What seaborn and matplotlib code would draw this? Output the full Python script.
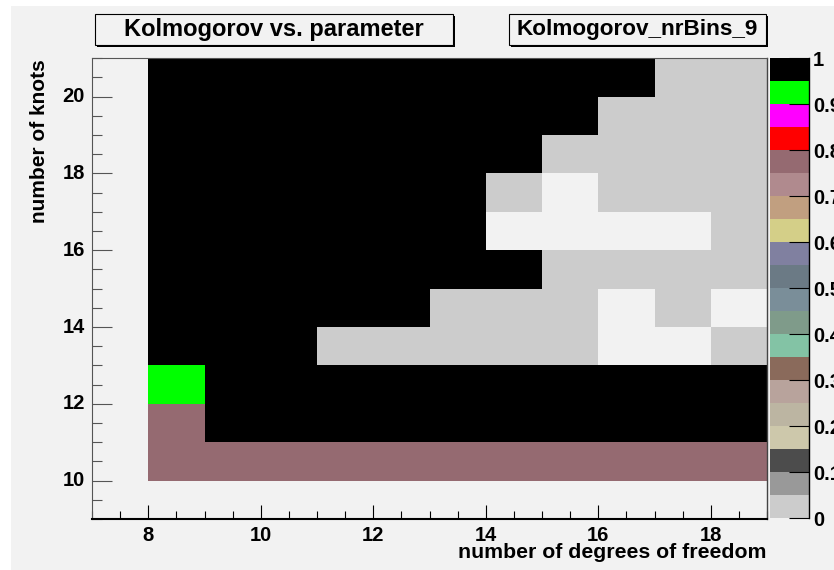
import numpy as np
import pandas as pd
import matplotlib
matplotlib.use("Agg")
import matplotlib.pyplot as plt
from matplotlib.colors import ListedColormap
from matplotlib.patches import Rectangle
import seaborn as sns

# ---- data -------------------------------------------------------------
dof = [8, 9, 10, 11, 12, 13, 14, 15, 16, 17, 18]          # x bins (lower edges)
knots = [20, 19, 18, 17, 16, 15, 14, 13, 12, 11, 10]      # y bins, top to bottom

# Kolmogorov probability per (knots, dof) bin; 0 means empty bin
kolmogorov = [
    [1.00, 1.00, 1.00, 1.00, 1.00, 1.00, 1.00, 1.00, 1.00, 0.02, 0.02],
    [1.00, 1.00, 1.00, 1.00, 1.00, 1.00, 1.00, 1.00, 0.02, 0.02, 0.02],
    [1.00, 1.00, 1.00, 1.00, 1.00, 1.00, 1.00, 0.02, 0.02, 0.02, 0.02],
    [1.00, 1.00, 1.00, 1.00, 1.00, 1.00, 0.02, 0.00, 0.02, 0.02, 0.02],
    [1.00, 1.00, 1.00, 1.00, 1.00, 1.00, 0.00, 0.00, 0.00, 0.00, 0.02],
    [1.00, 1.00, 1.00, 1.00, 1.00, 1.00, 1.00, 0.02, 0.02, 0.02, 0.02],
    [1.00, 1.00, 1.00, 1.00, 1.00, 0.02, 0.02, 0.02, 0.00, 0.02, 0.00],
    [1.00, 1.00, 1.00, 0.02, 0.02, 0.02, 0.02, 0.02, 0.00, 0.00, 0.02],
    [0.92, 1.00, 1.00, 1.00, 1.00, 1.00, 1.00, 1.00, 1.00, 1.00, 1.00],
    [0.78, 1.00, 1.00, 1.00, 1.00, 1.00, 1.00, 1.00, 1.00, 1.00, 1.00],
    [0.78, 0.78, 0.78, 0.78, 0.78, 0.78, 0.78, 0.78, 0.78, 0.78, 0.78],
]

x_range = (7, 19)
y_range = (9, 21)
x_major = [8, 10, 12, 14, 16, 18]
y_major = [10, 12, 14, 16, 18, 20]
z_ticks = [0.0, 0.1, 0.2, 0.3, 0.4, 0.5, 0.6, 0.7, 0.8, 0.9, 1.0]
z_labels = ["0", "0.1", "0.2", "0.3", "0.4", "0.5", "0.6", "0.7", "0.8", "0.9", "1"]

# 20-step palette, from 0 up to 1
palette = [
    "#cccccc", "#999999", "#4c4c4c", "#cdc8ab", "#bcb5a2",
    "#b8a39c", "#8a6a5b", "#83c3a5", "#7f9b8a", "#7a8e99",
    "#6b7a85", "#8080a0", "#d4cf88", "#c19f80", "#b08a8e",
    "#956a71", "#ff0000", "#ff00ff", "#00ff00", "#000000",
]

title_left = "Kolmogorov vs. parameter"
title_right = "Kolmogorov_nrBins_9"
x_title = "number of degrees of freedom"
y_title = "number of knots"

# ---- figure -----------------------------------------------------------
W, H = 834, 570
BG = "#f2f2f2"

plt.rcParams["font.family"] = ["Liberation Sans", "DejaVu Sans"]
plt.rcParams["font.weight"] = "bold"

fig = plt.figure(figsize=(W / 100, H / 100), dpi=100)
fig.patch.set_facecolor("white")


def fx(px):
    return px / W


def fy(py):
    return 1 - py / H


fig.add_artist(Rectangle((fx(11), 0), 1 - fx(11), fy(6),
                         transform=fig.transFigure, facecolor=BG,
                         edgecolor="none", zorder=-10))

ax = fig.add_axes([fx(92), fy(519), fx(767) - fx(92), fy(58.3) - fy(519)])
cax = fig.add_axes([fx(770), fy(518), fx(809) - fx(770), fy(58.3) - fy(518)])
ax.set_facecolor(BG)

df = pd.DataFrame(kolmogorov, index=knots, columns=dof)
cmap = ListedColormap(palette)
sns.heatmap(df, mask=(df == 0), cmap=cmap, vmin=0, vmax=1,
            ax=ax, cbar=True, cbar_ax=cax)

# heatmap cells sit at integer index positions: map data values onto them
x0 = dof[0]
y_top = knots[0] + 1
ax.set_xlim(x_range[0] - x0, x_range[1] - x0)
ax.set_ylim(y_top - y_range[0], y_top - y_range[1])

ax.set_xticks([v - x0 for v in x_major])
ax.set_xticklabels([str(v) for v in x_major], rotation=0)
ax.set_xticks(list(np.arange(x_range[0], x_range[1] + 0.01, 0.5) - x0), minor=True)
ax.set_yticks([y_top - v for v in y_major])
ax.set_yticklabels([str(v) for v in y_major], rotation=0, va="center")
ax.set_yticks(list(y_top - np.arange(y_range[0], y_range[1] + 0.01, 0.5)), minor=True)
ax.set_xlabel("")
ax.set_ylabel("")

ax.tick_params(axis="x", which="major", direction="in", length=10, width=0.8,
               color="black", labelsize=14.5, pad=5)
ax.tick_params(axis="x", which="minor", direction="in", length=5.5, width=0.8,
               color="black")
ax.tick_params(axis="y", which="major", direction="in", length=14.4, width=0.8,
               color="#555555", labelsize=14.5, pad=5)
ax.tick_params(axis="y", which="minor", direction="in", length=7.2, width=0.8,
               color="#555555")
for lab in ax.get_xticklabels() + ax.get_yticklabels():
    lab.set_fontweight("bold")

for name, sp in ax.spines.items():
    sp.set_visible(True)
    sp.set_linewidth(0.8)
    sp.set_color("#555555")
ax.spines["bottom"].set_color("black")
ax.spines["bottom"].set_linewidth(1.5)
ax.spines["right"].set_color("#444444")
ax.spines["right"].set_linewidth(1.0)

# colour scale
cbar = ax.collections[0].colorbar
cbar.set_ticks(z_ticks)
cbar.set_ticklabels(z_labels)
cbar.outline.set_visible(False)
cax.yaxis.set_ticks_position("right")
cax.tick_params(which="major", direction="in", length=14.4, width=0.8,
                color="black", labelsize=14.5, pad=3)
cax.minorticks_off()
for lab in cax.get_yticklabels():
    lab.set_fontweight("bold")
cax.plot([1, 1], [0, 1], transform=cax.transAxes, color="black",
         lw=1.0, clip_on=False)

# axis titles
fig.text(fx(767), fy(553), x_title, ha="right", va="center",
         fontsize=15.3, fontweight="bold")
fig.text(fx(40), fy(59), y_title, ha="center", va="top", rotation=90,
         fontsize=15, fontweight="bold")


# title boxes with drop shadow
def title_box(x0p, x1p, y0p, y1p, text, size):
    fig.add_artist(Rectangle((fx(x0p + 2), fy(y1p + 2)), fx(x1p) - fx(x0p),
                             fy(y0p) - fy(y1p), transform=fig.transFigure,
                             facecolor="black", edgecolor="none", zorder=5))
    fig.add_artist(Rectangle((fx(x0p), fy(y1p)), fx(x1p) - fx(x0p),
                             fy(y0p) - fy(y1p), transform=fig.transFigure,
                             facecolor=BG, edgecolor="black", lw=0.8, zorder=6))
    fig.text(fx((x0p + x1p) / 2), fy((y0p + y1p) / 2), text, ha="center",
             va="center", fontsize=size, fontweight="bold", zorder=7)


title_box(95, 453, 14, 45, title_left, 17.0)
title_box(509, 766, 14, 45, title_right, 16.2)

fig.savefig("out.png", dpi=100, facecolor=fig.get_facecolor())
